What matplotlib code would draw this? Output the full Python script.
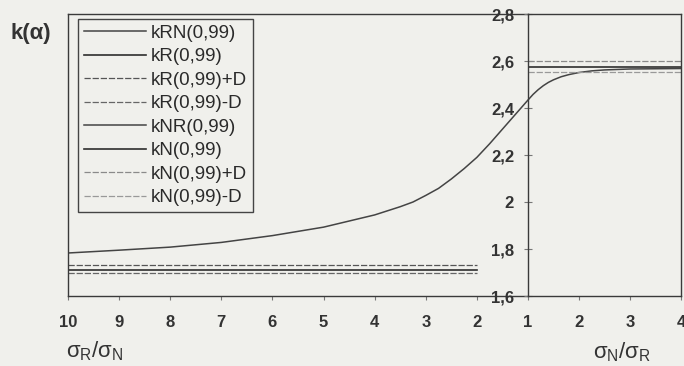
import matplotlib.pyplot as plt
from matplotlib.ticker import FuncFormatter

plt.rcParams['font.family'] = ['Liberation Sans', 'DejaVu Sans']
plt.rcParams['mathtext.fontset'] = 'custom'
plt.rcParams['mathtext.rm'] = 'Liberation Sans:bold'
plt.rcParams['mathtext.it'] = 'Liberation Sans:bold'
plt.rcParams['mathtext.bf'] = 'Liberation Sans:bold'
plt.rcParams['mathtext.default'] = 'regular'

# --- data ---
# left half: sigma_R / sigma_N from 10 down to 1
rn_x = [10, 9, 8, 7, 6, 5, 4, 3.5, 3.25, 3, 2.75, 2.5, 2.25, 2, 1.75, 1.5, 1.25, 1]
rn_y = [1.783, 1.795, 1.808, 1.828, 1.857, 1.893, 1.945, 1.98, 2.0, 2.028, 2.058,
        2.098, 2.142, 2.19, 2.248, 2.31, 2.372, 2.434]
kr_x = [10, 2]
kr = 1.711
kr_plus_d = 1.731
kr_minus_d = 1.699

# right half: sigma_N / sigma_R from 1 to 4
nr_x = [1, 1.1, 1.2, 1.3, 1.4, 1.5, 1.65, 1.8, 2, 2.25, 2.5, 3, 4]
nr_y = [2.434, 2.458, 2.478, 2.495, 2.509, 2.52, 2.533, 2.542, 2.551, 2.558,
        2.562, 2.566, 2.568]
kn_x = [1, 4]
kn = 2.575
kn_plus_d = 2.598
kn_minus_d = 2.553

legend_labels = ['kRN(0,99)', 'kR(0,99)', 'kR(0,99)+D', 'kR(0,99)-D',
                 'kNR(0,99)', 'kN(0,99)', 'kN(0,99)+D', 'kN(0,99)-D']
y_ticks = [1.6, 1.8, 2.0, 2.2, 2.4, 2.6, 2.8]
left_ticks = [10, 9, 8, 7, 6, 5, 4, 3, 2]
right_ticks = [1, 2, 3, 4]

BG = '#f0f0ec'
W, H = 684, 366

fig = plt.figure(figsize=(W / 100, H / 100), dpi=100, facecolor=BG)
ax_l = fig.add_axes([68 / W, 1 - 296 / H, 460 / W, 282 / H], facecolor=BG)
ax_r = fig.add_axes([528 / W, 1 - 296 / H, 153 / W, 282 / H], facecolor='none', zorder=3)

dash = (0, (5, 1.5))
handles = []
handles += ax_l.plot(rn_x, rn_y, color='#444444', lw=1.1)
handles += ax_l.plot(kr_x, [kr, kr], color='#2e2e2e', lw=1.2)
handles += ax_l.plot(kr_x, [kr_plus_d, kr_plus_d], color='#555555', lw=0.9, ls=dash)
handles += ax_l.plot(kr_x, [kr_minus_d, kr_minus_d], color='#666666', lw=0.9, ls=dash)
handles += ax_r.plot(nr_x, nr_y, color='#444444', lw=1.1)
handles += ax_r.plot(kn_x, [kn, kn], color='#2e2e2e', lw=1.2)
handles += ax_r.plot(kn_x, [kn_plus_d, kn_plus_d], color='#8a8a8a', lw=0.9, ls=dash)
handles += ax_r.plot(kn_x, [kn_minus_d, kn_minus_d], color='#999999', lw=0.9, ls=dash)

for ax in (ax_l, ax_r):
    ax.set_ylim(1.6, 2.8)
    for s in ax.spines.values():
        s.set_color('#3a3a3a')
        s.set_linewidth(1.0)
    ax.tick_params(axis='x', direction='out', length=3, width=0.8, color='#777777',
                   pad=11, labelsize=12)

ax_l.set_xlim(10, 1)
ax_l.set_xticks(left_ticks)
ax_l.set_xticklabels([str(t) for t in left_ticks], fontweight='bold', color='#333333')
ax_l.set_yticks([])
ax_l.spines['right'].set_visible(False)

ax_r.set_xlim(1, 4)
ax_r.set_xticks(right_ticks)
ax_r.set_xticklabels([str(t) for t in right_ticks], fontweight='bold', color='#333333')
ax_r.set_yticks(y_ticks)
ax_r.yaxis.set_major_formatter(FuncFormatter(lambda v, p: f'{v:g}'.replace('.', ',')))
ax_r.tick_params(axis='y', direction='inout', length=6, width=0.8, color='#777777',
                 pad=7, labelsize=12)
for lab in ax_r.get_yticklabels():
    lab.set_fontweight('bold')
    lab.set_color('#333333')

leg = ax_l.legend(handles, legend_labels, loc='upper left', bbox_to_anchor=(0.022, 0.982),
                  fontsize=13.5, frameon=True, fancybox=False, framealpha=1,
                  facecolor=BG, edgecolor='#444444', handlelength=3.3,
                  handletextpad=0.3, labelspacing=0.34, borderpad=0.3,
                  borderaxespad=0)
leg.get_frame().set_linewidth(1.0)
for t in leg.get_texts():
    t.set_color('#2a2a2a')

fig.text(31 / W, 1 - 34 / H, 'k(α)', ha='center', va='center', fontsize=16,
         fontweight='bold', color='#333333')
fig.text(95 / W, 1 - 351 / H, r'$σ_R/σ_N$', ha='center', va='center', fontsize=16,
         color='#333333')
fig.text(622 / W, 1 - 352 / H, r'$σ_N/σ_R$', ha='center', va='center', fontsize=16,
         color='#333333')

fig.savefig('out.png', dpi=100, facecolor=BG)
